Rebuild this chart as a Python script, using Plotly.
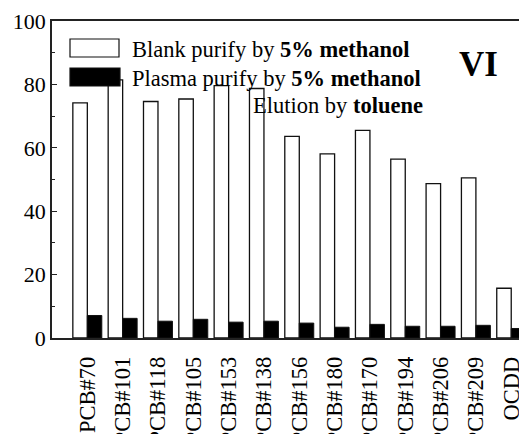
import plotly.graph_objects as go

categories = ["PCB#70", "PCB#101", "PCB#118", "PCB#105", "PCB#153", "PCB#138", "PCB#156",
              "PCB#180", "PCB#170", "PCB#194", "PCB#206", "PCB#209", "OCDD"]
blank_values = [74.2, 81.4, 74.6, 75.4, 79.6, 78.7, 63.6, 58.1, 65.5, 56.4, 48.7, 50.5, 15.7]
plasma_values = [7.1, 6.2, 5.3, 5.9, 5.0, 5.3, 4.7, 3.4, 4.3, 3.7, 3.7, 4.0, 3.0]
y_ticks = [0, 20, 40, 60, 80, 100]

FONT = "Liberation Serif"
fig = go.Figure()
fig.add_trace(go.Bar(x=list(range(len(categories))), y=blank_values,
                     name="Blank purify by 5% methanol",
                     marker=dict(color="white", line=dict(color="#111", width=1.3)),
                     showlegend=False))
fig.add_trace(go.Bar(x=list(range(len(categories))), y=plasma_values,
                     name="Plasma purify by 5% methanol",
                     marker=dict(color="black", line=dict(color="#111", width=1.0)),
                     showlegend=False))

W, H = 519, 434
L, R, T, B = 52, 0, 21, 96
pw, ph = W - L - R, H - T - B


def px(x):
    return (x - L) / pw


def py(y):
    return (H - B - y) / ph


shapes = [
    dict(type="rect", xref="paper", yref="paper", x0=px(70), x1=px(119), y0=py(57), y1=py(39),
         fillcolor="white", line=dict(color="#111", width=1.2), layer="above"),
    dict(type="rect", xref="paper", yref="paper", x0=px(70), x1=px(120), y0=py(86), y1=py(68),
         fillcolor="black", line=dict(color="#111", width=1.2), layer="above"),
]
ann_font = dict(family=FONT, size=22.5, color="black")
annotations = [
    dict(xref="paper", yref="paper", x=px(130), y=py(49), xanchor="left", yanchor="middle",
         text="Blank purify by <b>5% methanol</b>", showarrow=False, font=ann_font),
    dict(xref="paper", yref="paper", x=px(130), y=py(78), xanchor="left", yanchor="middle",
         text="Plasma purify by <b>5% methanol</b>", showarrow=False, font=ann_font),
    dict(xref="paper", yref="paper", x=px(425), y=py(105), xanchor="right", yanchor="middle",
         text="Elution by <b>toluene</b>", showarrow=False, font=ann_font),
    dict(xref="paper", yref="paper", x=px(478), y=py(64), xanchor="center", yanchor="middle",
         text="<b>VI</b>", showarrow=False, font=dict(family=FONT, size=35, color="black")),
]

fig.update_layout(
    width=W, height=H,
    margin=dict(l=L, r=R, t=T, b=B, pad=0, autoexpand=False),
    paper_bgcolor="white", plot_bgcolor="white",
    barmode="group", bargap=0.18, bargroupgap=0,
    shapes=shapes, annotations=annotations,
    font=dict(family=FONT, color="black"),
)
fig.update_xaxes(
    range=[-1, 12.22], tickmode="array", tickvals=list(range(len(categories))),
    ticktext=categories, tickangle=-90, tickfont=dict(family=FONT, size=22.5, color="black"),
    showline=True, linecolor="#222", linewidth=1.5, mirror=True, ticks="", showgrid=False,
    zeroline=False, ticklabelstandoff=8, automargin=False, ticklabeloverflow="allow",
)
fig.update_yaxes(
    range=[0, 100], tickmode="array", tickvals=y_ticks,
    tickfont=dict(family=FONT, size=22, color="black"),
    showline=True, linecolor="#222", linewidth=1.5, mirror=False,
    ticks="inside", ticklen=5, tickwidth=1.2, tickcolor="#222",
    minor=dict(ticks="inside", ticklen=3, dtick=10, tickcolor="#222", tickwidth=1.2),
    showgrid=False, zeroline=False, automargin=False,
)
fig.write_html("out.html", config={"displayModeBar": False},
               post_script="document.body.style.margin='0';document.body.style.overflow='hidden';")
